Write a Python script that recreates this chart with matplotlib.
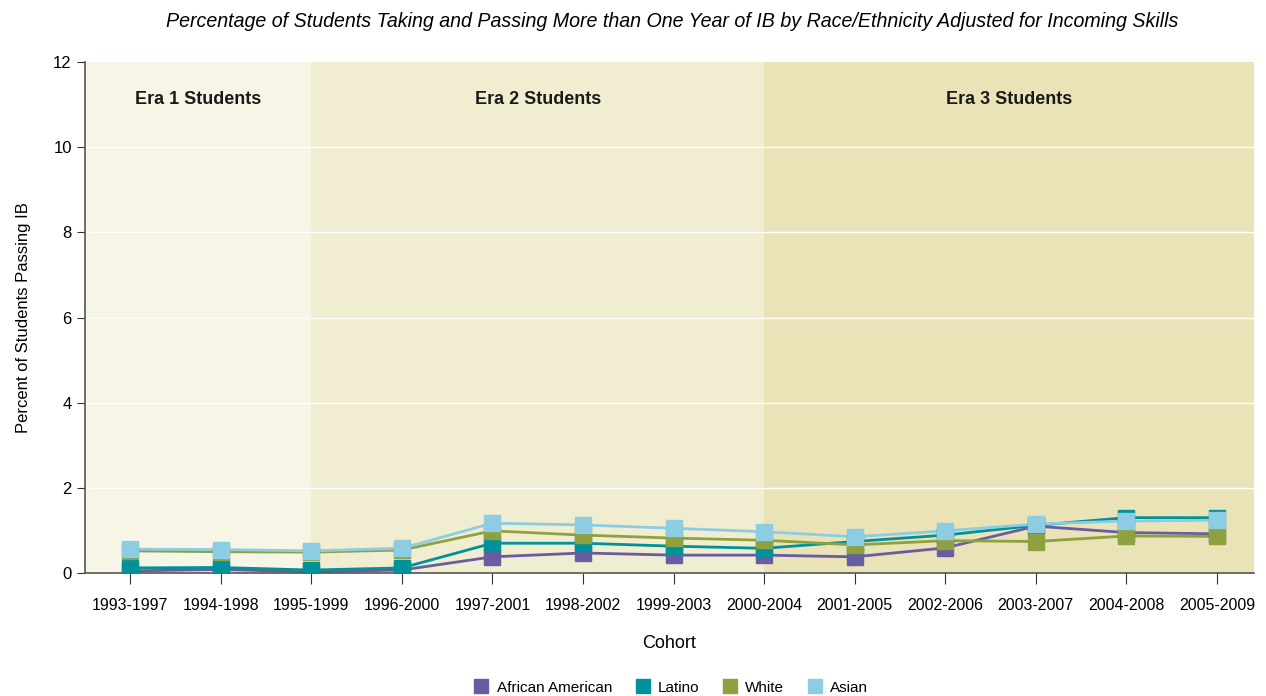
import matplotlib.pyplot as plt

plt.rcParams['font.family'] = ['Liberation Sans Narrow', 'Liberation Sans', 'DejaVu Sans']

cohorts = ["1993-1997", "1994-1998", "1995-1999", "1996-2000", "1997-2001",
           "1998-2002", "1999-2003", "2000-2004", "2001-2005", "2002-2006",
           "2003-2007", "2004-2008", "2005-2009"]

african_american = [0.05, 0.08, 0.03, 0.07, 0.38, 0.47, 0.42, 0.42, 0.38, 0.59, 1.10, 0.95, 0.92]
latino = [0.12, 0.13, 0.07, 0.12, 0.70, 0.70, 0.63, 0.58, 0.74, 0.89, 1.12, 1.30, 1.30]
white = [0.52, 0.50, 0.49, 0.54, 0.99, 0.89, 0.82, 0.77, 0.66, 0.76, 0.74, 0.87, 0.86]
asian = [0.56, 0.55, 0.52, 0.58, 1.17, 1.13, 1.05, 0.97, 0.85, 0.99, 1.15, 1.22, 1.24]

series = [("African American", african_american, "#685da0"),
          ("Latino", latino, "#00929a"),
          ("White", white, "#8fa13f"),
          ("Asian", asian, "#8ccde3")]

eras = [("Era 1 Students", -0.5, 2, "#f7f5e6"),
        ("Era 2 Students", 2, 7, "#f1edd0"),
        ("Era 3 Students", 7, 12.41, "#ebe3b8")]

fig = plt.figure(figsize=(12.66, 6.96), dpi=100)
ax = fig.add_axes([0.0671, 0.1767, 0.9234, 0.7342])

x = list(range(len(cohorts)))

for name, x0, x1, col in eras:
    ax.axvspan(x0, x1, color=col, zorder=0, lw=0)
    ax.text((x0 + x1) / 2, 11.13, name, ha="center", va="center",
            fontsize=13, fontweight="bold", color="#1a1a1a")

for yv in [2, 4, 6, 8, 10]:
    ax.axhline(yv, color="white", lw=1, zorder=1)

for i, (name, vals, col) in enumerate(series):
    ax.plot(x, vals, color=col, lw=2, zorder=2 + i)
for i, (name, vals, col) in enumerate(series):
    ax.plot(x, vals, ls="none", marker="s", ms=11, color=col, zorder=6 + i,
            label=name)

ax.set_xlim(-0.5, 12.41)
ax.set_ylim(0, 12)
ax.set_xticks(x)
ax.set_xticklabels(cohorts, fontsize=11.5)
ax.set_yticks([0, 2, 4, 6, 8, 10, 12])
ax.tick_params(axis="y", labelsize=12, length=6, color="#333333")
ax.tick_params(axis="x", length=8, color="#333333", pad=10)

for s in ["top", "right"]:
    ax.spines[s].set_visible(False)
for s in ["left", "bottom"]:
    ax.spines[s].set_color("#555555")
    ax.spines[s].set_linewidth(1.2)

ax.set_xlabel("Cohort", fontsize=13, labelpad=16)
ax.set_ylabel("Percent of Students Passing IB", fontsize=12, labelpad=16)

fig.suptitle("Percentage of Students Taking and Passing More than One Year of IB by Race/Ethnicity Adjusted for Incoming Skills",
             fontsize=14.1, style="italic", x=0.531, y=0.983)

fig.legend(loc="lower center", bbox_to_anchor=(0.53, -0.018), ncol=4, frameon=False,
           fontsize=11, handlelength=1.0, handletextpad=0.5, columnspacing=1.5,
           markerscale=0.95)

plt.savefig("out.png", dpi=100)
